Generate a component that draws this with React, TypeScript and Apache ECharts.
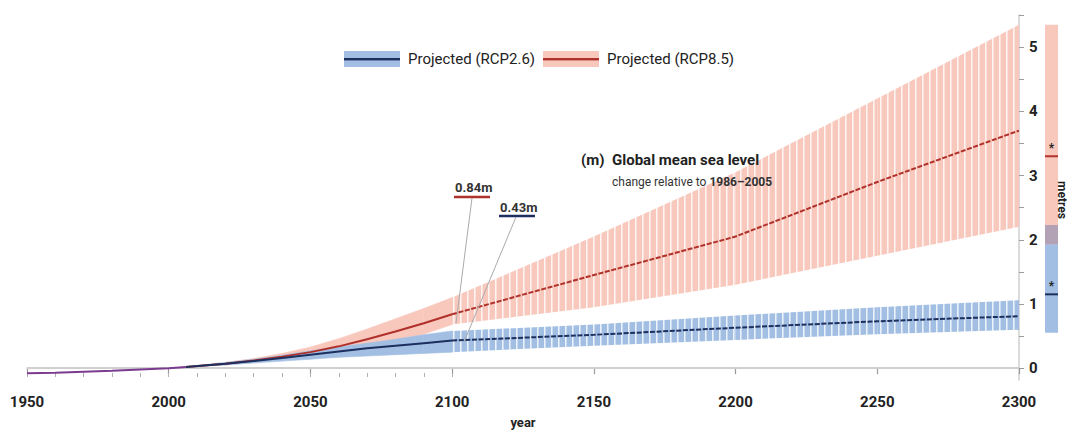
import React, { useEffect, useRef } from "react";
import * as echarts from "echarts";

const FONT = 'Roboto, "Noto Sans", sans-serif';

// Axis ticks / labels
const yLabelValues = [0, 1, 2, 3, 4, 5];
const yTickValues = [0, 0.5, 1, 1.5, 2, 2.5, 3, 3.5, 4, 4.5, 5, 5.5];

// Observed / historical
const histYears = [1950, 1960, 1970, 1980, 1990, 2000, 2006];
const histValues = [-0.08, -0.07, -0.055, -0.04, -0.02, 0.0, 0.02];

// Projections to 2100
const nearYears = [2006, 2020, 2030, 2040, 2050, 2060, 2070, 2080, 2090, 2100];
const rcp26Median = [0.02, 0.07, 0.11, 0.16, 0.21, 0.26, 0.31, 0.35, 0.39, 0.43];
const rcp26Low = [0.02, 0.05, 0.08, 0.11, 0.14, 0.17, 0.19, 0.21, 0.23, 0.25];
const rcp26High = [0.02, 0.09, 0.14, 0.2, 0.27, 0.33, 0.39, 0.45, 0.52, 0.58];
const rcp85Median = [0.02, 0.07, 0.12, 0.18, 0.25, 0.34, 0.45, 0.57, 0.7, 0.84];
const rcp85Low = [0.02, 0.05, 0.09, 0.13, 0.18, 0.25, 0.33, 0.42, 0.53, 0.68];
const rcp85High = [0.02, 0.09, 0.15, 0.23, 0.33, 0.46, 0.61, 0.77, 0.93, 1.1];

// Projections 2100-2300
const farYears = [2100, 2150, 2200, 2250, 2300];
const rcp26MedianFar = [0.43, 0.52, 0.63, 0.73, 0.81];
const rcp26LowFar = [0.25, 0.35, 0.44, 0.53, 0.6];
const rcp26HighFar = [0.58, 0.68, 0.82, 0.95, 1.06];
const rcp85MedianFar = [0.84, 1.45, 2.05, 2.9, 3.7];
const rcp85LowFar = [0.68, 0.95, 1.3, 1.75, 2.2];
const rcp85HighFar = [1.1, 2.05, 3.05, 4.2, 5.35];

// 2300 range bars [RCP2.6, RCP8.5]
const bar2300Low = [0.55, 1.93];
const bar2300High = [2.23, 5.35];
const bar2300Median = [1.15, 3.3];

const BLUE_BAND = "#a2bfe3";
const RED_BAND = "#f8c8bd";
const BLUE_LINE = "#1c2f5e";
const RED_LINE = "#b0302a";
const OVERLAP = "#b3a2b6";
const HIST = "#7b3b8e";
const AXIS_GREY = "#cfcfcf";

function stripePattern(color: string) {
  const c = document.createElement("canvas");
  c.width = 7;
  c.height = 7;
  const ctx = c.getContext("2d")!;
  ctx.fillStyle = color;
  ctx.fillRect(0, 0, 7, 7);
  ctx.fillStyle = "rgba(255,255,255,0.8)";
  ctx.fillRect(5, 0, 1, 7);
  ctx.fillStyle = "rgba(255,255,255,0.45)";
  ctx.fillRect(6, 0, 1, 7);
  return { image: c, repeat: "repeat", imageWidth: 7, imageHeight: 7 } as any;
}

function legendIcon(fill: string, line: string) {
  const svg = `<svg xmlns='http://www.w3.org/2000/svg' width='56' height='16'><rect width='56' height='16' fill='${fill}'/><rect y='7' width='56' height='2.4' fill='${line}'/></svg>`;
  return "image://data:image/svg+xml;charset=utf-8," + encodeURIComponent(svg);
}

function band(name: string, years: number[], low: number[], high: number[], fill: any, edge: string | null, z: number) {
  return {
    type: "custom",
    name,
    silent: true,
    z,
    encode: { x: 0, y: [1, 2] },
    data: years.map((y, i) => [y, low[i], high[i]]),
    renderItem: (params: any, api: any) => {
      const i = params.dataIndexInside;
      if (i >= params.dataInsideLength - 1) return { type: "group", children: [] };
      const x0 = api.value(0, i);
      const x1 = api.value(0, i + 1);
      const p = [
        api.coord([x0, api.value(1, i)]),
        api.coord([x1, api.value(1, i + 1)]),
        api.coord([x1, api.value(2, i + 1)]),
        api.coord([x0, api.value(2, i)]),
      ];
      return {
        type: "polygon",
        shape: { points: p },
        style: edge ? { fill, stroke: edge, lineWidth: 0.6 } : { fill },
      };
    },
  };
}

function medianLine(name: string, years: number[], vals: number[], color: string, dashed: boolean, z: number) {
  return {
    type: "line",
    name,
    data: years.map((y, i) => [y, vals[i]]),
    symbol: "none",
    lineStyle: { color, width: 2, type: dashed ? [5, 1.6] : "solid" },
    silent: true,
    z,
  };
}

export default function App() {
  const ref = useRef<HTMLDivElement>(null);
  useEffect(() => {
    const chart = echarts.init(ref.current!, null, { renderer: "svg" });
    const N26 = "Projected (RCP2.6)";
    const N85 = "Projected (RCP8.5)";

    const rangeData = bar2300Low.map((lo, i) => [2300, lo, bar2300High[i], bar2300Median[i], i]);
    const overlapData = [[2300, Math.max(bar2300Low[0], bar2300Low[1]), Math.min(bar2300High[0], bar2300High[1])]];

    const option: any = {
      animation: false,
      backgroundColor: "#ffffff",
      textStyle: { fontFamily: FONT },
      legend: {
        left: 339,
        top: 46,
        itemWidth: 56,
        itemHeight: 16,
        itemGap: 8,
        selectedMode: false,
        textStyle: { fontSize: 15, color: "#222", fontFamily: FONT, padding: [0, 0, 0, 3] },
        data: [
          { name: N26, icon: legendIcon(BLUE_BAND, BLUE_LINE) },
          { name: N85, icon: legendIcon(RED_BAND, RED_LINE) },
        ],
      },
      grid: [
        { left: 27, right: 52, top: 15, bottom: 49 },
        { left: 27, width: (992 * 150) / 350, top: 15, bottom: 49 },
      ],
      xAxis: [
        {
          type: "value",
          min: 1950,
          max: 2300,
          interval: 50,
          gridIndex: 0,
          axisLine: { lineStyle: { color: AXIS_GREY, width: 1.5 } },
          axisTick: { length: 6, lineStyle: { color: "#9a9a9a", width: 1.2 } },
          axisLabel: {
            fontSize: 15,
            fontWeight: "bold",
            color: "#222",
            margin: 14,
            fontFamily: FONT,
            formatter: (v: number) => String(v),
          },
          splitLine: { show: false },
          name: "year",
          nameLocation: "middle",
          nameGap: 36,
          nameTextStyle: { fontSize: 13, fontWeight: "bold", color: "#222", fontFamily: FONT },
        },
        {
          type: "value",
          min: 1950,
          max: 2100,
          interval: 10,
          gridIndex: 1,
          axisLine: { show: false },
          axisTick: { show: true, length: 4, lineStyle: { color: "#b0b0b0", width: 1 } },
          axisLabel: { show: false },
          splitLine: { show: false },
        },
      ],
      yAxis: [
        {
          type: "value",
          position: "right",
          min: -0.184,
          max: 5.5,
          gridIndex: 0,
          axisLine: { show: true, lineStyle: { color: AXIS_GREY, width: 1.5 } },
          axisTick: { show: true, length: 5, customValues: yTickValues, lineStyle: { color: "#9a9a9a" } },
          axisLabel: {
            customValues: yLabelValues,
            fontSize: 15,
            fontWeight: "bold",
            color: "#222",
            margin: 10,
            fontFamily: FONT,
          },
          splitLine: { show: false },
        },
        { type: "value", gridIndex: 1, min: -0.184, max: 5.5, show: false },
      ],
      series: [
        band(N85, nearYears, rcp85Low, rcp85High, RED_BAND, RED_BAND, 2),
        band(N85, farYears, rcp85LowFar, rcp85HighFar, stripePattern(RED_BAND), null, 2),
        band(N26, nearYears, rcp26Low, rcp26High, BLUE_BAND, BLUE_BAND, 3),
        band(N26, farYears, rcp26LowFar, rcp26HighFar, stripePattern(BLUE_BAND), null, 3),
        medianLine(N85, nearYears, rcp85Median, RED_LINE, false, 4),
        medianLine(N85, farYears, rcp85MedianFar, RED_LINE, true, 4),
        medianLine(N26, nearYears, rcp26Median, BLUE_LINE, false, 4),
        medianLine(N26, farYears, rcp26MedianFar, BLUE_LINE, true, 4),
        {
          type: "line",
          name: "Observed",
          data: histYears.map((y, i) => [y, histValues[i]]),
          symbol: "none",
          lineStyle: { color: HIST, width: 2 },
          silent: true,
          z: 5,
          markLine: {
            silent: true,
            symbol: "none",
            label: { show: false },
            lineStyle: { color: AXIS_GREY, width: 2, type: "solid" },
            data: [{ yAxis: 0 }],
            z: 1,
          },
        },
        {
          type: "custom",
          name: "range2300",
          clip: false,
          silent: true,
          z: 5,
          encode: { x: 0, y: [1, 2] },
          data: rangeData,
          renderItem: (params: any, api: any) => {
            const lo = api.value(1);
            const hi = api.value(2);
            const med = api.value(3);
            const k = api.value(4);
            const pHi = api.coord([2300, hi]);
            const pLo = api.coord([2300, lo]);
            const pMed = api.coord([2300, med]);
            const x = pHi[0] + 26;
            const w = 13;
            return {
              type: "group",
              children: [
                {
                  type: "rect",
                  shape: { x, y: pHi[1], width: w, height: pLo[1] - pHi[1] },
                  style: { fill: k === 0 ? BLUE_BAND : RED_BAND },
                },
                {
                  type: "line",
                  shape: { x1: x, y1: pMed[1], x2: x + w, y2: pMed[1] },
                  style: { stroke: k === 0 ? BLUE_LINE : RED_LINE, lineWidth: 2 },
                  z2: 10,
                },
                {
                  type: "text",
                  x: x + w / 2,
                  y: pMed[1] - 2,
                  style: {
                    text: "*",
                    fontSize: 12,
                    fontWeight: "bold",
                    fill: "#222",
                    align: "center",
                    verticalAlign: "bottom",
                    fontFamily: FONT,
                  },
                  z2: 10,
                },
              ],
            };
          },
        },
        {
          type: "custom",
          name: "overlap2300",
          clip: false,
          silent: true,
          z: 6,
          encode: { x: 0, y: [1, 2] },
          data: overlapData,
          renderItem: (params: any, api: any) => {
            const pHi = api.coord([2300, api.value(2)]);
            const pLo = api.coord([2300, api.value(1)]);
            return {
              type: "rect",
              shape: { x: pHi[0] + 26, y: pHi[1], width: 13, height: pLo[1] - pHi[1] },
              style: { fill: OVERLAP },
            };
          },
        },
      ],
      graphic: [
        {
          type: "text",
          z: 100,
          x: 1062,
          y: 200,
          rotation: -Math.PI / 2,
          style: {
            text: "metres",
            fontSize: 12,
            fontWeight: "bold",
            fill: "#222",
            align: "center",
            verticalAlign: "middle",
            fontFamily: FONT,
          },
        },
        {
          type: "text",
          z: 100,
          x: 581,
          y: 160,
          style: { text: "(m)", fontSize: 15, fontWeight: "bold", fill: "#222", verticalAlign: "middle", fontFamily: FONT },
        },
        {
          type: "text",
          z: 100,
          x: 612,
          y: 160,
          style: {
            text: "Global mean sea level",
            fontSize: 15,
            fontWeight: "bold",
            fill: "#222",
            verticalAlign: "middle",
            fontFamily: FONT,
          },
        },
        {
          type: "text",
          z: 100,
          x: 612,
          y: 182,
          style: {
            text: "{a|change relative to }{b|1986–2005}",
            verticalAlign: "middle",
            rich: {
              a: { fontSize: 12, fill: "#333", fontFamily: FONT },
              b: { fontSize: 12, fontWeight: "bold", fill: "#333", fontFamily: FONT },
            },
          },
        },
        {
          type: "text",
          z: 100,
          x: 455,
          y: 187,
          style: { text: "0.84m", fontSize: 13, fontWeight: "bold", fill: "#333", verticalAlign: "middle", fontFamily: FONT },
        },
        { type: "line", z: 100, shape: { x1: 454, y1: 197, x2: 490, y2: 197 }, style: { stroke: RED_LINE, lineWidth: 2.5 } },
        {
          type: "text",
          z: 100,
          x: 500,
          y: 207,
          style: { text: "0.43m", fontSize: 13, fontWeight: "bold", fill: "#333", verticalAlign: "middle", fontFamily: FONT },
        },
        { type: "line", z: 100, shape: { x1: 499, y1: 216, x2: 535, y2: 216 }, style: { stroke: BLUE_LINE, lineWidth: 2.5 } },
        { type: "line", z: 100, shape: { x1: 472, y1: 198, x2: 456, y2: 323 }, style: { stroke: "#aaaaaa", lineWidth: 1 } },
        { type: "line", z: 100, shape: { x1: 516, y1: 217, x2: 464, y2: 342 }, style: { stroke: "#aaaaaa", lineWidth: 1 } },
      ],
    };

    chart.setOption(option);
    return () => chart.dispose();
  }, []);

  return (
    <div
      ref={ref}
      style={{ position: "fixed", left: 0, top: 0, width: 1071, height: 434, background: "#fff" }}
    />
  );
}
